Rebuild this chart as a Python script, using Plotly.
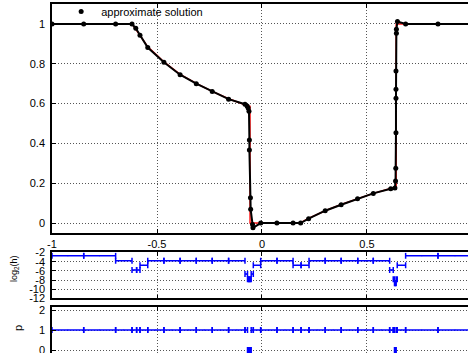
import numpy as np
import plotly.graph_objects as go

# ---------------- data ----------------
approx_x = [-1.0, -0.849, -0.697, -0.619, -0.601, -0.581, -0.544, -0.467, -0.390, -0.313,
            -0.237, -0.159, -0.081, -0.071, -0.066, -0.062, -0.060, -0.060, -0.055, -0.054,
            -0.045, -0.043, -0.006, 0.071, 0.148, 0.184, 0.222, 0.301, 0.377, 0.455,
            0.530, 0.613, 0.633, 0.636, 0.637, 0.638, 0.638, 0.638, 0.638, 0.640,
            0.640, 0.645, 0.684, 0.838, 1.0]
approx_u = [1.0, 1.0, 1.0, 1.0, 0.978, 0.943, 0.881, 0.807, 0.745, 0.700,
            0.660, 0.622, 0.597, 0.588, 0.578, 0.562, 0.417, 0.367, 0.127, 0.069,
            -0.007, -0.024, 0.0, 0.0, 0.0, 0.0, 0.022, 0.062, 0.092, 0.122,
            0.149, 0.172, 0.176, 0.211, 0.275, 0.454, 0.627, 0.672, 0.764, 0.953,
            0.973, 1.012, 1.0, 1.0, 1.0]

exact_x = [-1.0, -0.62, -0.60, -0.58, -0.544, -0.50, -0.467, -0.39, -0.313, -0.237,
           -0.159, -0.081, -0.057, -0.057, 0.18, 0.224, 0.301, 0.377, 0.455, 0.53,
           0.60, 0.639, 0.639, 1.0]
exact_u = [1.0, 1.0, 0.972, 0.942, 0.885, 0.843, 0.809, 0.747, 0.701, 0.661,
           0.624, 0.594, 0.586, 0.0, 0.0, 0.025, 0.062, 0.093, 0.122, 0.149,
           0.170, 0.180, 1.0, 1.0]

mesh_nodes = [-1.0, -0.849, -0.697, -0.619, -0.597, -0.581, -0.544, -0.467, -0.390, -0.313,
              -0.237, -0.159, -0.081, -0.069, -0.0633, -0.0571, -0.0514, -0.0414, -0.0062, 0.0714,
              0.148, 0.186, 0.224, 0.301, 0.377, 0.456, 0.530, 0.608, 0.625, 0.631,
              0.635, 0.639, 0.644, 0.684, 0.838, 1.0]
cell_log2h = [-2.72, -2.72, -3.78, -5.8, -5.8, -4.8, -3.78, -3.78, -3.78, -3.78,
              -3.78, -3.78, -6.7, -7.8, -7.8, -7.8, -6.7, -4.8, -3.78, -3.78,
              -4.8, -4.8, -3.78, -3.78, -3.78, -3.78, -3.78, -5.8, -7.8, -8.7,
              -8.7, -7.8, -4.8, -2.72, -2.72]
cell_p = [1, 1, 1, 1, 1, 1, 1, 1, 1, 1,
          1, 1, 1, 0, 0, 0, 1, 1, 1, 1,
          1, 1, 1, 1, 1, 1, 1, 1, 1, 0,
          0, 1, 1, 1, 1]

x_tickvals = [-1, -0.5, 0, 0.5]
x_ticktext = ["-1", "-0.5", "0", "0.5"]
u_tickvals = [0, 0.2, 0.4, 0.6, 0.8, 1]
u_ticktext = ["0", "0.2", "0.4", "0.6", "0.8", "1"]
h_tickvals = [-2, -4, -6, -8, -10, -12]
h_ticktext = ["-2", "-4", "-6", "-8", "-10", "-12"]
p_tickvals = [0, 1, 2]
p_ticktext = ["0", "1", "2"]

# ---------------- figure ----------------
nodes = np.array(mesh_nodes)
centers = (nodes[:-1] + nodes[1:]) / 2
halfw = (nodes[1:] - nodes[:-1]) / 2

FONT = dict(family="Liberation Sans, Arial, sans-serif", size=11, color="black")
BLUE = "#0000ff"

fig = go.Figure()
fig.add_trace(go.Scatter(x=exact_x, y=exact_u, mode="lines",
                         line=dict(color="#ff1a1a", width=1.5),
                         showlegend=False, xaxis="x", yaxis="y"))
fig.add_trace(go.Scatter(x=approx_x, y=approx_u, mode="lines",
                         line=dict(color="black", width=2),
                         showlegend=False, xaxis="x", yaxis="y"))
fig.add_trace(go.Scatter(x=approx_x, y=approx_u, mode="markers",
                         marker=dict(color="black", size=5),
                         name="approximate solution", xaxis="x", yaxis="y"))

errx = dict(type="data", array=halfw, symmetric=True, color=BLUE, thickness=1.5, width=3)
fig.add_trace(go.Scatter(x=centers, y=cell_log2h, mode="markers",
                         marker=dict(color=BLUE, size=1), error_x=errx,
                         showlegend=False, xaxis="x2", yaxis="y2"))
fig.add_trace(go.Scatter(x=centers, y=cell_p, mode="markers",
                         marker=dict(color=BLUE, size=1), error_x=errx,
                         showlegend=False, xaxis="x3", yaxis="y3", cliponaxis=False))

XR = [-1, 0.981]
grid = dict(showgrid=True, gridcolor="#555555", griddash="1px,2px", gridwidth=1)
xcommon = dict(range=XR, tickvals=x_tickvals, ticktext=x_ticktext, ticks="inside",
               ticklen=4, tickcolor="black", showline=True, linecolor="black",
               linewidth=1.5, zeroline=False, automargin=False,
               ticklabeloverflow="allow", **grid)
ycommon = dict(ticks="inside", ticklen=4, tickcolor="black", showline=True,
               linecolor="black", linewidth=1.5, zeroline=False, mirror=False,
               ticklabelstandoff=3, automargin=False, ticklabeloverflow="allow", **grid)

fig.update_layout(
    template="none",
    width=468, height=353,
    margin=dict(l=52, r=0, t=4, b=0, pad=0, autoexpand=False),
    paper_bgcolor="white", plot_bgcolor="white",
    font=FONT,
    showlegend=True,
    legend=dict(x=0.022, y=1.02, xanchor="left", yanchor="top",
                bgcolor="rgba(0,0,0,0)", borderwidth=0, font=dict(size=11),
                itemwidth=30, tracegroupgap=0),
    xaxis=dict(anchor="y", mirror="ticks", **xcommon),
    yaxis=dict(domain=[0.3438, 1], range=[-0.05, 1.1], tickvals=u_tickvals,
               ticktext=u_ticktext, anchor="x", **ycommon),
    xaxis2=dict(anchor="y2", matches="x", mirror="ticks", showticklabels=False, **xcommon),
    yaxis2=dict(domain=[0.1562, 0.288], range=[-12, -2], tickvals=h_tickvals,
                ticktext=h_ticktext, anchor="x2", **ycommon),
    xaxis3=dict(anchor="y3", matches="x", side="top", showticklabels=False, **xcommon),
    yaxis3=dict(domain=[0, 0.1318], range=[-0.15, 2.15], tickvals=p_tickvals,
                ticktext=p_ticktext, anchor="x3", **ycommon),
    annotations=[
        dict(text="log<sub>2</sub>(h)", textangle=-90, xref="paper", yref="paper",
             x=-0.089, y=0.2436, xanchor="center", yanchor="middle", showarrow=False,
             font=dict(size=9)),
        dict(text="p", textangle=-90, xref="paper", yref="paper",
             x=-0.0817, y=0.0716, xanchor="center", yanchor="middle", showarrow=False,
             font=dict(size=11)),
    ],
)

fig.write_html("out.html")
